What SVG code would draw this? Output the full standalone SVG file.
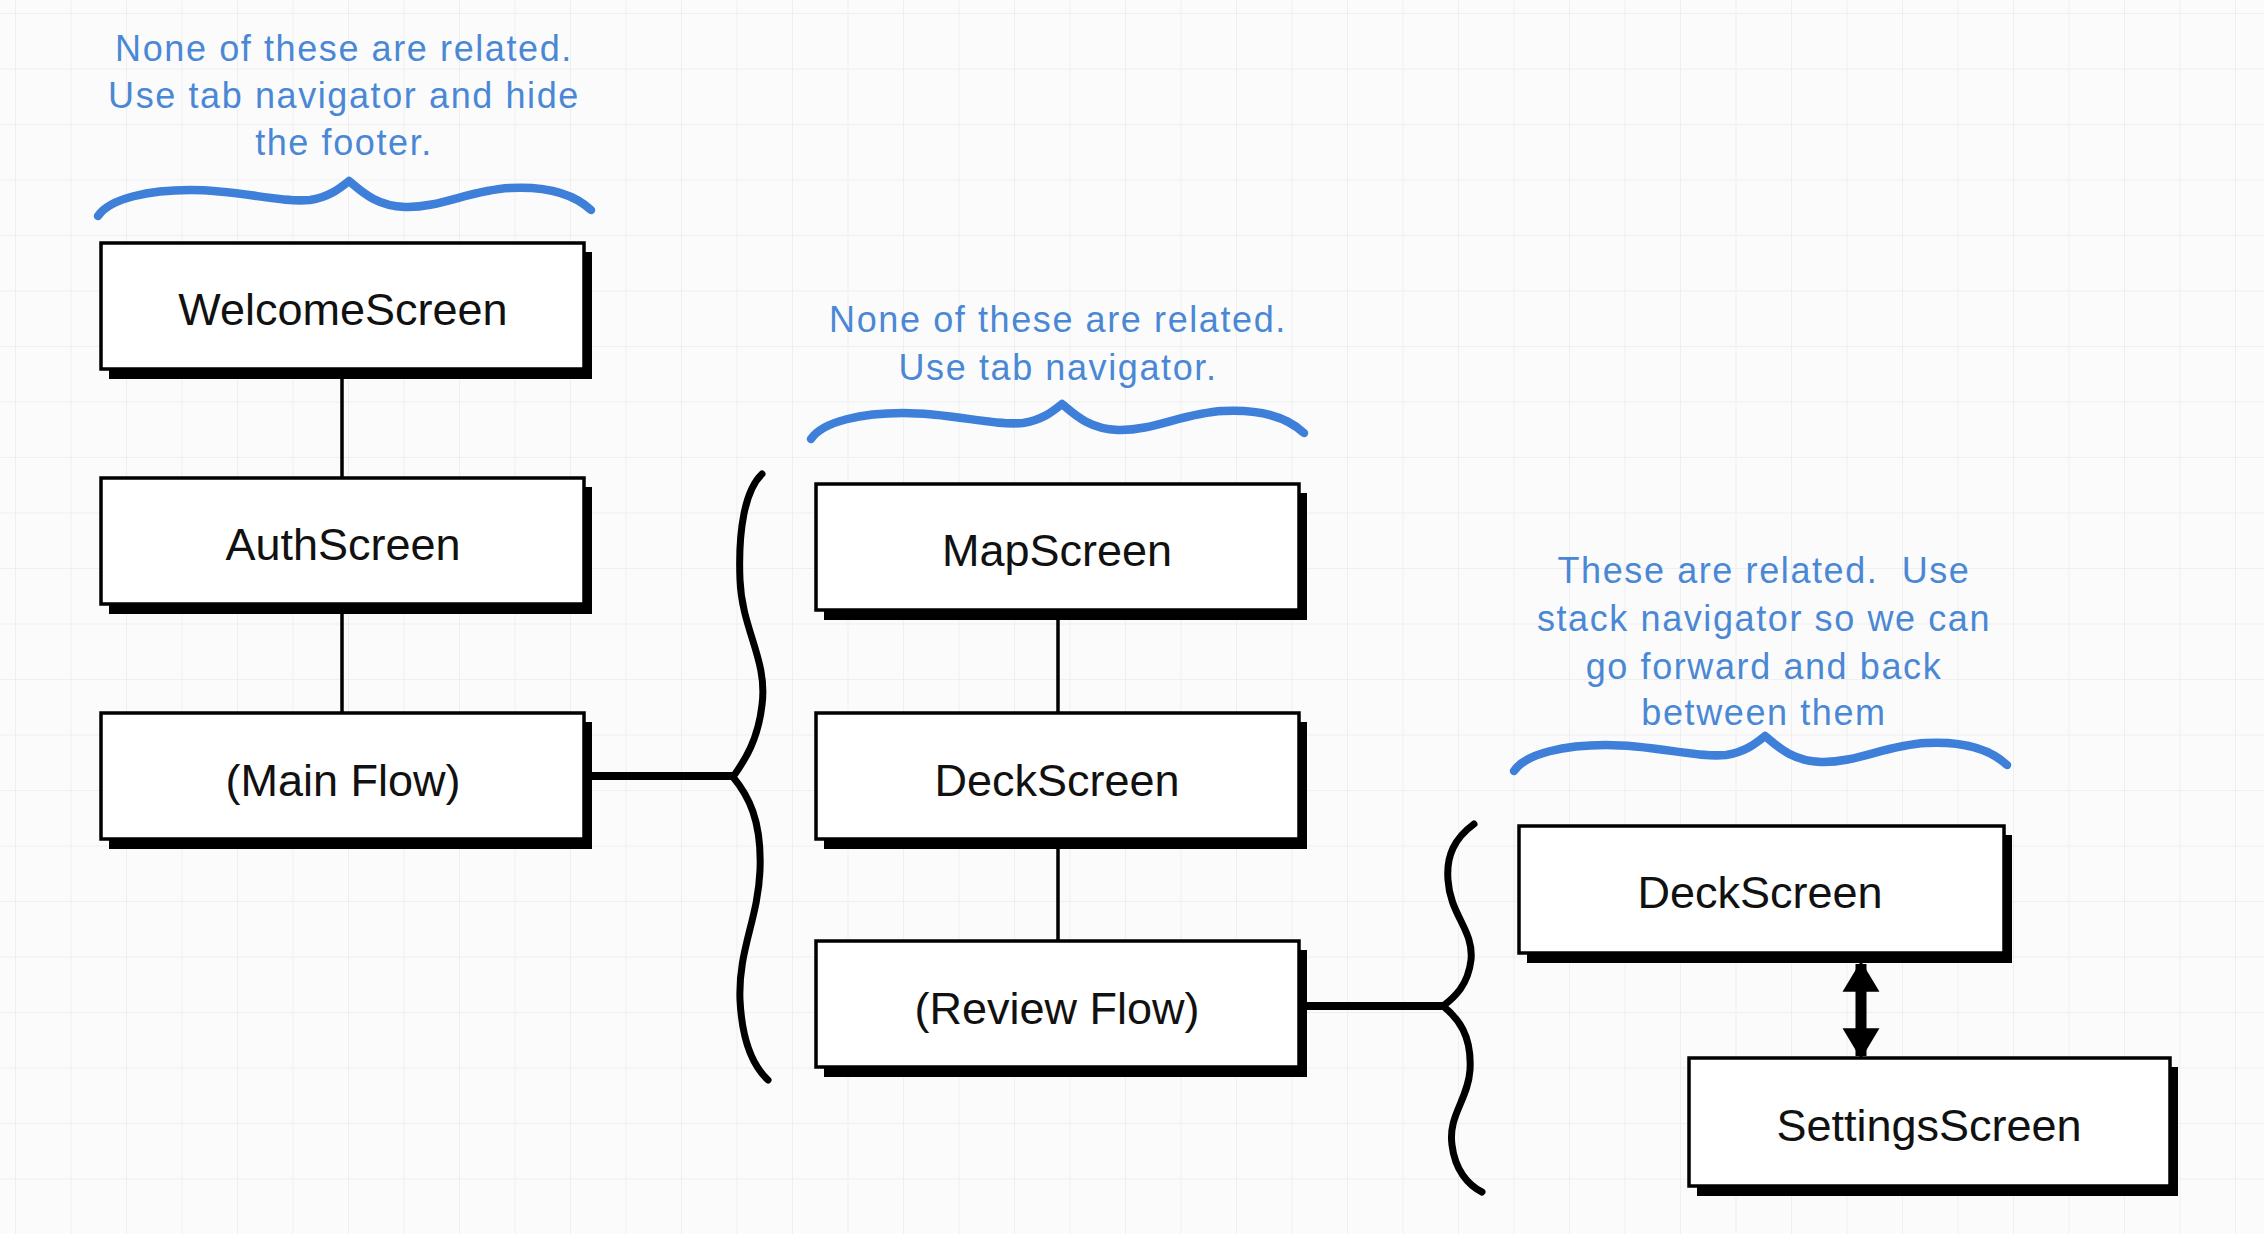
<svg xmlns="http://www.w3.org/2000/svg" width="2264" height="1234" viewBox="0 0 2264 1234">
<defs>
<pattern id="grid" x="15" y="13" width="55.5" height="55.5" patternUnits="userSpaceOnUse">
<path d="M0,0 H55.5 M0,0 V55.5" fill="none" stroke="#ececec" stroke-width="1.5"/>
</pattern>
<marker id="ah" viewBox="0 0 10 12" refX="9" refY="6" markerWidth="2.8" markerHeight="3.4" orient="auto-start-reverse" markerUnits="strokeWidth">
<path d="M0,0 L10,6 L0,12 Z" fill="#000"/>
</marker>
</defs>
<style>
.shadow{fill:#000}
.box{fill:#fff;stroke:#000;stroke-width:3.5}
.lbl{font-family:"Liberation Sans",Arial,sans-serif;font-size:45px;fill:#111;text-anchor:middle}
.note{font-family:"Liberation Sans",Arial,sans-serif;font-size:36px;letter-spacing:1.6px;fill:#4a88d6;text-anchor:middle}
.wave{fill:none;stroke:#3d7fd9;stroke-width:8.5;stroke-linecap:round;stroke-linejoin:round}
.thin{fill:none;stroke:#000;stroke-width:3.5}
.thick{fill:none;stroke:#000;stroke-width:8}
.brace{fill:none;stroke:#000;stroke-width:7;stroke-linecap:round;stroke-linejoin:round}
</style>
<rect width="2264" height="1234" fill="#fbfbfb"/>
<rect width="2264" height="1234" fill="url(#grid)"/>

<g id="annotations">
<g id="note-main">
<text class="note" x="344" y="61">None of these are related.</text>
<text class="note" x="344" y="108">Use tab navigator and hide</text>
<text class="note" x="344" y="155">the footer.</text>
<path id="wave1" class="wave" d="M98,216 C110,198 150,190 190,190 C240,190 280,203 310,200 C330,197 340,188 349,181 C360,190 375,206 405,207 C440,208 470,190 510,188 C550,186 575,195 591,210"/>
</g>
<g id="note-tabs">
<text class="note" x="1058" y="332">None of these are related.</text>
<text class="note" x="1058" y="380">Use tab navigator.</text>
<use href="#wave1" transform="translate(713,223)"/>
</g>
<g id="note-stack">
<text class="note" x="1764" y="583">These are related.&#160; Use</text>
<text class="note" x="1764" y="631">stack navigator so we can</text>
<text class="note" x="1764" y="679">go forward and back</text>
<text class="note" x="1764" y="725">between them</text>
<use href="#wave1" transform="translate(1416,555)"/>
</g>
</g>

<g id="connectors">
<line class="thin" x1="342" y1="375" x2="342" y2="478"/>
<line class="thin" x1="342" y1="610" x2="342" y2="713"/>
<line class="thin" x1="1058" y1="616" x2="1058" y2="713"/>
<line class="thin" x1="1058" y1="845" x2="1058" y2="941"/>
<line class="thick" x1="590" y1="776" x2="735" y2="776"/>
<line class="thick" x1="1305" y1="1006" x2="1446" y2="1006"/>
<path class="brace" d="M762,474 C745,490 738,530 740,580 C742,630 768,660 762,705 C758,740 745,760 733,777 C748,795 762,820 760,870 C758,920 738,950 740,1000 C742,1040 752,1065 768,1080"/>
<path class="brace" d="M1474,824 C1455,838 1446,855 1448,880 C1450,915 1474,930 1471,960 C1468,985 1455,997 1443,1006 C1458,1018 1472,1035 1470,1070 C1468,1100 1448,1115 1452,1145 C1455,1170 1468,1185 1482,1192"/>
<line x1="1861" y1="964" x2="1861" y2="1056" stroke="#000" stroke-width="11" marker-start="url(#ah)" marker-end="url(#ah)"/>
</g>

<g id="welcome">
<rect class="shadow" x="109" y="252" width="483" height="127"/>
<rect class="box" x="101" y="243" width="483" height="126"/>
<text class="lbl" x="343" y="325">WelcomeScreen</text>
</g>
<g id="auth">
<rect class="shadow" x="109" y="487" width="483" height="127"/>
<rect class="box" x="101" y="478" width="483" height="126"/>
<text class="lbl" x="343" y="560">AuthScreen</text>
</g>
<g id="mainflow">
<rect class="shadow" x="109" y="722" width="483" height="127"/>
<rect class="box" x="101" y="713" width="483" height="126"/>
<text class="lbl" x="343" y="796">(Main Flow)</text>
</g>
<g id="map">
<rect class="shadow" x="824" y="493" width="483" height="127"/>
<rect class="box" x="816" y="484" width="483" height="126"/>
<text class="lbl" x="1057" y="566">MapScreen</text>
</g>
<g id="deck-mid">
<rect class="shadow" x="824" y="722" width="483" height="127"/>
<rect class="box" x="816" y="713" width="483" height="126"/>
<text class="lbl" x="1057" y="796">DeckScreen</text>
</g>
<g id="review">
<rect class="shadow" x="824" y="950" width="483" height="127"/>
<rect class="box" x="816" y="941" width="483" height="126"/>
<text class="lbl" x="1057" y="1024">(Review Flow)</text>
</g>
<g id="deck-right">
<rect class="shadow" x="1527" y="835" width="485" height="128"/>
<rect class="box" x="1519" y="826" width="485" height="127"/>
<text class="lbl" x="1760" y="908">DeckScreen</text>
</g>
<g id="settings">
<rect class="shadow" x="1697" y="1067" width="481" height="129"/>
<rect class="box" x="1689" y="1058" width="481" height="128"/>
<text class="lbl" x="1929" y="1141">SettingsScreen</text>
</g>
</svg>
